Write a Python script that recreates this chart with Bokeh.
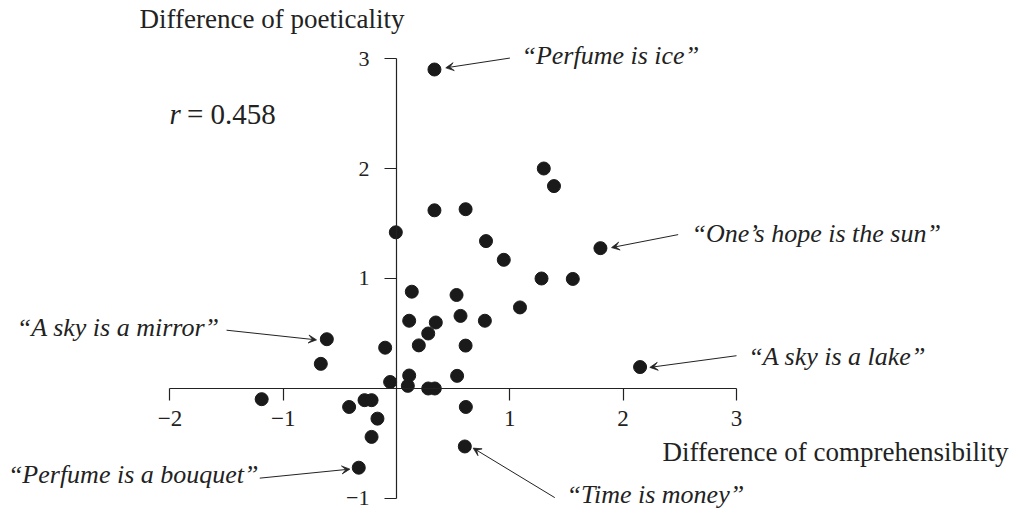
from bokeh.plotting import figure
from bokeh.models import (LinearAxis, FixedTicker, Range1d, Label, Arrow, VeeHead,
                          ColumnDataSource)
from bokeh.embed import file_html
from bokeh.resources import INLINE

# ---------------- data ----------------
comprehensibility = [0.335, 1.30, 1.39, 0.335, 0.61, -0.006, 0.79, 1.80, 0.947, 1.28,
                     1.556, 0.135, 0.53, 1.09, 0.112, 0.347, 0.565, 0.78, 0.28, -0.615,
                     -0.10, 0.197, 0.61, -0.668, 0.112, 0.535, -0.056, 0.10, 0.28, 0.338,
                     -0.282, -0.22, -0.418, 0.612, -0.168, -0.22, 0.603, -1.19, -0.333, 2.15]
poeticality = [2.90, 2.00, 1.84, 1.62, 1.63, 1.42, 1.34, 1.276, 1.17, 1.00,
               0.996, 0.88, 0.85, 0.737, 0.616, 0.60, 0.66, 0.616, 0.50, 0.448,
               0.371, 0.392, 0.39, 0.224, 0.118, 0.115, 0.059, 0.024, 0.0, 0.0,
               -0.106, -0.106, -0.168, -0.168, -0.274, -0.44, -0.527, -0.097, -0.72, 0.195]

x_ticks = [-2, -1, 1, 2, 3]
y_ticks = [-1, 1, 2, 3]
tick_text = {-2: "\u22122", -1: "\u22121"}

x_title = "Difference of comprehensibility"
y_title = "Difference of poeticality"
r_symbol = "r"
r_text = "= 0.458"

ann_text = ["\u201cPerfume is ice\u201d", "\u201cOne\u2019s hope is the sun\u201d",
            "\u201cA sky is a lake\u201d", "\u201cA sky is a mirror\u201d",
            "\u201cPerfume is a bouquet\u201d", "\u201cTime is money\u201d"]
ann_x = [1.103, 2.604, 3.104, -1.562, -1.218, 1.500]
ann_y = [3.027, 1.411, 0.289, 0.554, -0.786, -0.963]
ann_align = ["left", "left", "left", "right", "right", "left"]
arrow_x0 = [1.001, 2.486, 3.001, -1.500, -1.207, 1.397]
arrow_y0 = [3.004, 1.399, 0.298, 0.530, -0.815, -0.992]
arrow_x1 = [0.435, 1.898, 2.236, -0.706, -0.412, 0.677]
arrow_y1 = [2.915, 1.281, 0.192, 0.442, -0.733, -0.542]

SERIF = "Liberation Serif"
INK = "#222222"

p = figure(width=1014, height=513, output_backend="svg", toolbar_location=None,
           x_range=Range1d(-3.4951, 5.4546), y_range=Range1d(-1.1364, 3.5273),
           x_axis_type=None, y_axis_type=None, min_border=0,
           min_border_left=0, min_border_right=0, min_border_top=0, min_border_bottom=0)
p.outline_line_color = None
p.xgrid.visible = False
p.ygrid.visible = False
p.background_fill_color = "white"
p.border_fill_color = "white"

xaxis = LinearAxis(fixed_location=0, bounds=(-2, 3), ticker=FixedTicker(ticks=x_ticks))
yaxis = LinearAxis(fixed_location=0, bounds=(-1, 3), ticker=FixedTicker(ticks=y_ticks))
for ax in (xaxis, yaxis):
    ax.axis_line_color = INK
    ax.axis_line_width = 1.2
    ax.major_tick_line_color = INK
    ax.major_tick_line_width = 1.2
    ax.major_tick_out = 12
    ax.major_tick_in = 0
    ax.minor_tick_out = 0
    ax.minor_tick_in = 0
    ax.major_label_text_font = SERIF
    ax.major_label_text_font_size = "23px"
    ax.major_label_text_color = INK
    ax.major_label_overrides = tick_text
xaxis.major_label_standoff = 11
yaxis.major_label_standoff = 15
yaxis.major_label_text_font_size = "22px"
p.add_layout(xaxis, "below")
p.add_layout(yaxis, "left")

src = ColumnDataSource(dict(x=comprehensibility, y=poeticality))
p.scatter("x", "y", source=src, size=13, color="#1a1a1a")

for i in range(len(ann_text)):
    p.add_layout(Arrow(end=VeeHead(size=8, fill_color=INK, line_color=INK, line_width=0.8),
                       x_start=arrow_x0[i], y_start=arrow_y0[i],
                       x_end=arrow_x1[i], y_end=arrow_y1[i],
                       line_color=INK, line_width=1))
    p.add_layout(Label(x=ann_x[i], y=ann_y[i], text=ann_text[i], text_align=ann_align[i],
                       text_baseline="middle", text_font=SERIF, text_font_style="italic",
                       text_font_size="26px", text_color=INK))

p.add_layout(Label(x=2.348, y=-0.577, text=x_title, text_align="left", text_baseline="middle",
                   text_font=SERIF, text_font_size="27px", text_color=INK))
p.add_layout(Label(x=-2.268, y=3.363, text=y_title, text_align="left", text_baseline="middle",
                   text_font=SERIF, text_font_size="27px", text_color=INK))
p.add_layout(Label(x=-2.004, y=2.496, text=r_symbol, text_align="left", text_baseline="middle",
                   text_font=SERIF, text_font_style="italic", text_font_size="29px",
                   text_color=INK))
p.add_layout(Label(x=-1.85, y=2.496, text=r_text, text_align="left", text_baseline="middle",
                   text_font=SERIF, text_font_size="29px", text_color=INK))

open("out.html", "w").write(file_html(p, INLINE))
